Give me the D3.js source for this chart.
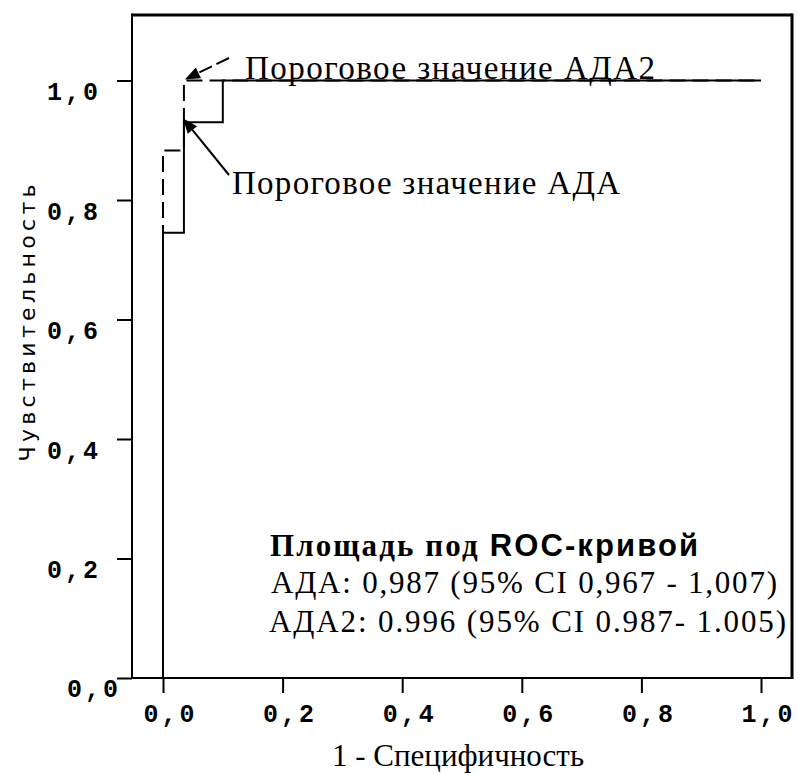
<!DOCTYPE html>
<html><head><meta charset="utf-8">
<script src="https://cdn.jsdelivr.net/npm/d3@7"></script>
<style>
html,body{margin:0;padding:0;background:#fff;}
svg{display:block;}
</style></head>
<body>
<svg id="chart" width="798" height="773"></svg>
<script>
// ---- data ----
const adaFpr  = [0, 0, 0.035, 0.035, 0.10, 0.10, 1.0];
const adaTpr  = [0, 0.745, 0.745, 0.93, 0.93, 1.0, 1.0];
const ada2Fpr = [0, 0, 0.035, 0.035, 1.0];
const ada2Tpr = [0, 0.883, 0.883, 1.0, 1.0];
const xTicks = [0, 0.2, 0.4, 0.6, 0.8, 1.0];
const yTicks = [0, 0.2, 0.4, 0.6, 0.8, 1.0];
const thresholdAda  = [0.035, 0.93];
const thresholdAda2 = [0.035, 1.0];
const labelAda  = "Пороговое значение АДА";
const labelAda2 = "Пороговое значение АДА2";
const xTitle = "1 - Специфичность";
const yTitle = "Чувствительность";
const legendTitleA = "Площадь под ";
const legendTitleB = "ROC-кривой";
const legendLines = ["АДА: 0,987 (95% CI 0,967 - 1,007)", "АДА2: 0.996 (95% CI 0.987- 1.005)"];

(function () {
// ---- layout ----
const svg = d3.select("#chart");
const x = d3.scaleLinear().domain([0, 1]).range([163, 761]);
const y = d3.scaleLinear().domain([0, 1]).range([678, 80.5]);
const pL = 132, pR = 792, pT = 15, pB = 678;
const fmt = d => d3.format(".1f")(d).replace(".", ",");
const mono = "'Liberation Mono','Courier New',monospace";
const serif = "'Liberation Serif','Times New Roman',serif";

// frame
const frame = svg.append("g").attr("stroke", "#000").attr("fill", "none");
frame.append("line").attr("x1", pL).attr("x2", pR).attr("y1", pT).attr("y2", pT).attr("stroke-width", 3);
frame.append("line").attr("x1", pR).attr("x2", pR).attr("y1", pT - 1.5).attr("y2", pB).attr("stroke-width", 3);
frame.append("line").attr("x1", pL).attr("x2", pL).attr("y1", pT - 1.5).attr("y2", pB + 1).attr("stroke-width", 2);
frame.append("line").attr("x1", pL).attr("x2", pR + 1.5).attr("y1", pB).attr("y2", pB).attr("stroke-width", 2);

// axes
const yAxis = svg.append("g").attr("transform", `translate(${pL},0)`)
  .call(d3.axisLeft(y).tickValues(yTicks).tickSize(15).tickPadding(0).tickFormat(fmt));
const xAxis = svg.append("g").attr("transform", `translate(0,${pB})`)
  .call(d3.axisBottom(x).tickValues(xTicks).tickSize(15).tickPadding(0).tickFormat(fmt));
[yAxis, xAxis].forEach(a => {
  a.select(".domain").remove();
  a.selectAll(".tick line").attr("stroke", "#000").attr("stroke-width", 2);
  a.selectAll(".tick text").attr("fill", "#000").attr("font-family", mono)
    .attr("font-weight", "bold").attr("font-size", 25).attr("letter-spacing", 3);
});
yAxis.selectAll(".tick text").attr("x", -31).attr("dy", null).attr("y", 19).attr("text-anchor", "end");
yAxis.selectAll(".tick").filter(d => d === 0).select("text").attr("x", -11).attr("y", 18);
xAxis.selectAll(".tick text").attr("dy", null).attr("y", 44).attr("x", 7);

// curves
const line = d3.line().x(d => x(d[0])).y(d => y(d[1]));
svg.append("path").datum(d3.zip(ada2Fpr, ada2Tpr)).attr("d", line)
  .attr("fill", "none").attr("stroke", "#000").attr("stroke-width", 2).attr("stroke-dasharray", "16,7");
svg.append("path").datum(d3.zip(adaFpr, adaTpr)).attr("d", line)
  .attr("fill", "none").attr("stroke", "#000").attr("stroke-width", 2);

// arrows
function arrow(tip, tail, dash) {
  const [tx, ty] = tip, [sx, sy] = tail;
  const ang = Math.atan2(ty - sy, tx - sx);
  const L = 15, W = 6;
  const bx = tx - L * Math.cos(ang), by = ty - L * Math.sin(ang);
  svg.append("line").attr("x1", sx).attr("y1", sy).attr("x2", bx).attr("y2", by)
    .attr("stroke", "#000").attr("stroke-width", 2).attr("stroke-dasharray", dash);
  const p = [[tx, ty],
    [bx + W * Math.sin(ang), by - W * Math.cos(ang)],
    [bx - W * Math.sin(ang), by + W * Math.cos(ang)]];
  svg.append("polygon").attr("points", p.map(q => q.join(",")).join(" ")).attr("fill", "#000");
}
arrow([x(thresholdAda2[0]) + 1, y(thresholdAda2[1]) - 1], [229, 58], "14,5");
arrow([x(thresholdAda[0]) - 1, y(thresholdAda[1]) - 4], [229, 175], null);

// annotation labels
svg.append("text").attr("x", 245).attr("y", 79).attr("font-family", serif).attr("font-size", 33)
  .attr("textLength", 410).attr("fill", "#000").text(labelAda2);
svg.append("text").attr("x", 232).attr("y", 194).attr("font-family", serif).attr("font-size", 33)
  .attr("textLength", 388).attr("fill", "#000").text(labelAda);

// legend
const lt = svg.append("text").attr("x", 270).attr("y", 556).attr("font-size", 31).attr("font-weight", "bold")
  .attr("fill", "#000").attr("textLength", 428);
lt.append("tspan").attr("font-family", serif).text(legendTitleA);
lt.append("tspan").attr("font-family", "'Liberation Sans',Arial,sans-serif").text(legendTitleB);
svg.append("text").attr("x", 271).attr("y", 593).attr("font-family", serif).attr("font-size", 31)
  .attr("textLength", 506).attr("fill", "#000").text(legendLines[0]);
svg.append("text").attr("x", 269).attr("y", 632).attr("font-family", serif).attr("font-size", 31)
  .attr("textLength", 517).attr("fill", "#000").text(legendLines[1]);

// axis titles
svg.append("text").attr("x", 458).attr("y", 766).attr("text-anchor", "middle").attr("font-family", serif)
  .attr("font-size", 31).attr("fill", "#000").text(xTitle);
svg.append("text").attr("transform", "translate(35,323) rotate(-90)").attr("text-anchor", "middle")
  .attr("font-family", "'DejaVu Sans',sans-serif").attr("font-size", 22).attr("textLength", 277)
  .attr("fill", "#000").text(yTitle);
})();
</script>
</body></html>
